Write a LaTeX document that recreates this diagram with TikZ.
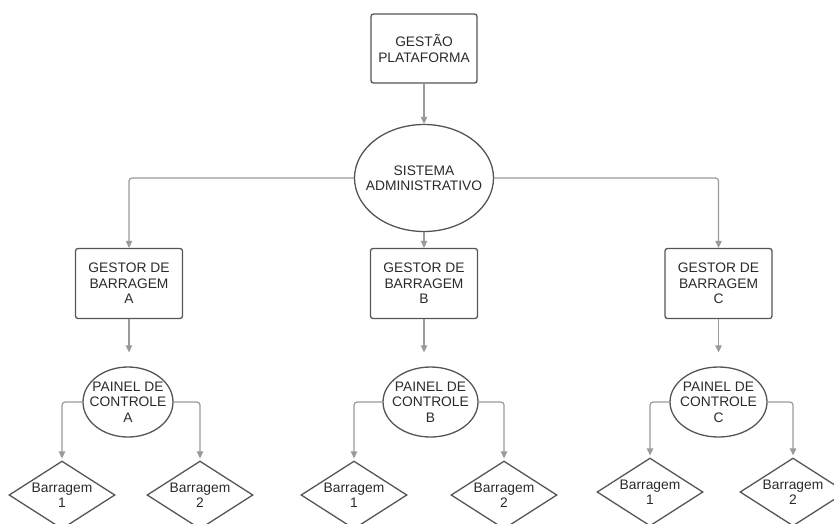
\documentclass[tikz,border=0pt]{standalone}
\usepackage{fontspec}
\setmainfont{Liberation Sans}
\usetikzlibrary{shapes.geometric,arrows.meta}
\definecolor{bord}{HTML}{555555}
\definecolor{conn}{HTML}{9A9A9A}
\definecolor{txt}{HTML}{2A2A2A}
\tikzset{
  base/.style={draw=bord, line width=1.3pt, text=txt, align=center,
    font=\fontsize{13.8}{15.5}\selectfont, inner sep=0pt},
  boxnode/.style={base, rectangle, rounded corners=2.5pt, minimum width=107pt, minimum height=70pt},
  ellnode/.style={base, ellipse},
  dianode/.style={base, diamond, aspect=1.56, inner sep=-3pt, minimum width=106pt, minimum height=68pt,
    font=\fontsize{13.8}{15}\selectfont},
  arr/.style={draw=conn, line width=1.2pt, -{Triangle[length=7pt,width=6.5pt]}, rounded corners=3pt}
}
\begin{document}
\begin{tikzpicture}[x=1pt,y=-1pt]
\useasboundingbox (0,0) rectangle (834,523);
\node[boxnode, minimum width=106pt, minimum height=69pt] (top) at (424,48.5) {GESTÃO\\PLATAFORMA};
\node[ellnode, inner sep=-10pt, minimum width=139pt, minimum height=107pt] (sis) at (424,178) {SISTEMA\\ADMINISTRATIVO};
\node[boxnode] (gA) at (129,283.5) {GESTOR DE\\BARRAGEM\\A};
\node[boxnode] (gB) at (424,283.5) {GESTOR DE\\BARRAGEM\\B};
\node[boxnode] (gC) at (718.5,283.5) {GESTOR DE\\BARRAGEM\\C};
\node[ellnode, inner sep=-12pt, minimum width=90pt, minimum height=70pt] (pA) at (128,402) {PAINEL DE\\CONTROLE\\A};
\node[ellnode, inner sep=-12pt, minimum width=95pt, minimum height=70pt] (pB) at (430.5,402) {PAINEL DE\\CONTROLE\\B};
\node[ellnode, inner sep=-12pt, minimum width=97pt, minimum height=70pt] (pC) at (718.5,402) {PAINEL DE\\CONTROLE\\C};
\node[dianode] (dA1) at (62,495) {Barragem\\1};
\node[dianode] (dA2) at (200,495) {Barragem\\2};
\node[dianode] (dB1) at (354,495) {Barragem\\1};
\node[dianode] (dB2) at (504,495) {Barragem\\2};
\node[dianode] (dC1) at (650,492) {Barragem\\1};
\node[dianode] (dC2) at (793,492) {Barragem\\2};

\draw[arr] (top.south) -- (sis.north);
\draw[arr] (sis.west) -| (gA.north);
\draw[arr] (sis.east) -| (gC.north);
\draw[arr] (sis.south) -- (gB.north);
\draw[arr, shorten >=14pt] (gA.south) -- (gA.south |- pA.north);
\draw[arr, shorten >=14pt] (gB.south) -- (gB.south |- pB.north);
\draw[arr, shorten >=14pt] (gC.south) -- (gC.south |- pC.north);
\draw[arr, shorten >=2pt] (pA.west) -| (dA1.north);
\draw[arr, shorten >=2pt] (pA.east) -| (dA2.north);
\draw[arr, shorten >=2pt] (pB.west) -| (dB1.north);
\draw[arr, shorten >=2pt] (pB.east) -| (dB2.north);
\draw[arr, shorten >=2pt] (pC.west) -| (dC1.north);
\draw[arr, shorten >=2pt] (pC.east) -| (dC2.north);
\end{tikzpicture}
\end{document}
